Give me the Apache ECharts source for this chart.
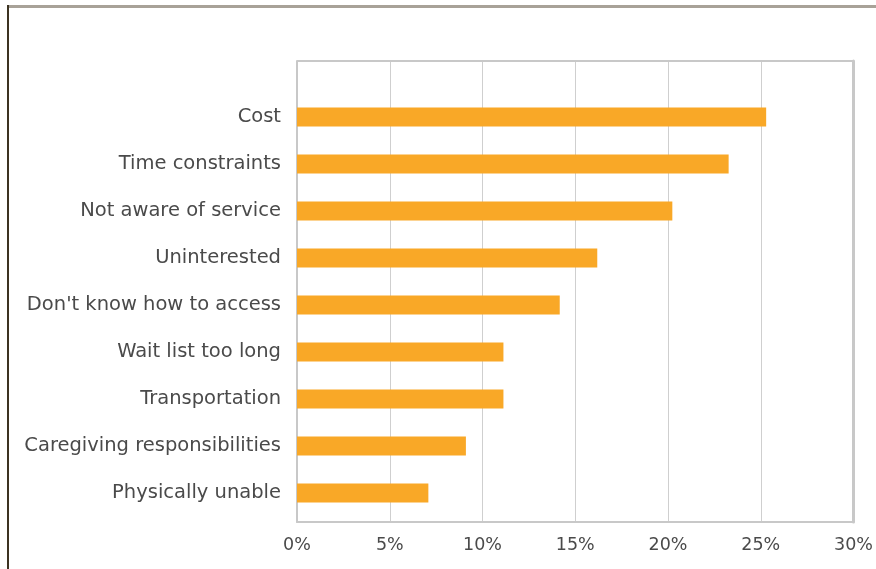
<!DOCTYPE html>
<html><head><meta charset="utf-8">
<script src="https://cdn.jsdelivr.net/npm/echarts@6/dist/echarts.min.js"></script>
<style>html,body{margin:0;padding:0;background:#fff;}#c{width:876px;height:569px;}</style>
</head><body><div id="c"></div>
<script>
const categories = ['Cost','Time constraints','Not aware of service','Uninterested',"Don't know how to access",'Wait list too long','Transportation','Caregiving responsibilities','Physically unable'];
const values = [25,23,20,16,14,11,11,9,7];
const xTicks = [0,5,10,15,20,25,30];

const chart = echarts.init(document.getElementById('c'));
const font = '"DejaVu Sans", sans-serif';
chart.setOption({
  animation:false,
  graphic:[
    {type:'rect', shape:{x:8,y:5,width:868,height:3}, style:{fill:'#a8a298'}},
    {type:'rect', shape:{x:7,y:5,width:2,height:564}, style:{fill:'#3c3322'}}
  ],
  grid:[
    {left:297,right:16,top:61,bottom:47,show:false},
    {left:297,right:16,top:93.5,bottom:52.5,show:false}
  ],
  xAxis:[
    {gridIndex:0,type:'value',min:0,max:30,interval:5,
     axisLine:{show:true,lineStyle:{color:'#c8c8c8',width:2}},
     axisTick:{show:false},
     splitLine:{show:true,lineStyle:{color:'#cfcfcf',width:1}},
     axisLabel:{formatter:v=>xTicks.includes(v)?v+'%':'',color:'#4a4a4a',fontSize:17.5,fontFamily:font,margin:14}},
    {gridIndex:1,type:'value',min:0,max:30,show:false}
  ],
  yAxis:[
    {gridIndex:0,type:'value',min:0,max:1,
     axisLine:{show:true,lineStyle:{color:'#c8c8c8',width:2}},
     axisTick:{show:false},axisLabel:{show:false},splitLine:{show:false}},
    {gridIndex:0,type:'value',min:0,max:1,position:'right',
     axisLine:{show:true,lineStyle:{color:'#c8c8c8',width:3}},
     axisTick:{show:false},axisLabel:{show:false},splitLine:{show:false}},
    {gridIndex:1,type:'category',data:categories,inverse:true,
     axisLine:{show:false},axisTick:{show:false},
     axisLabel:{color:'#4a4a4a',fontSize:19.5,fontFamily:font,margin:16,padding:[0,0,6,0]}}
  ],
  series:[
    {type:'bar',xAxisIndex:1,yAxisIndex:2,data:values,barWidth:19,
     itemStyle:{color:'#f9a827'}},
    {type:'line',xAxisIndex:0,yAxisIndex:0,data:[],silent:true,
     markLine:{silent:true,symbol:'none',label:{show:false},
       lineStyle:{color:'#c8c8c8',width:2,type:'solid'},
       data:[{yAxis:1}]}}
  ]
});
</script></body></html>
